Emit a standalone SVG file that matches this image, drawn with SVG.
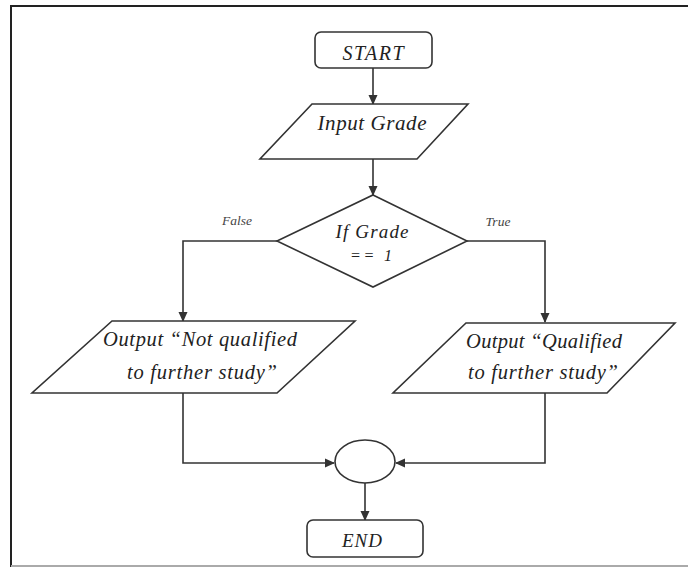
<svg xmlns="http://www.w3.org/2000/svg" width="688" height="567" viewBox="0 0 688 567">
<style>
.shape{fill:#fff;stroke:#333;stroke-width:1.6}
.conn{fill:none;stroke:#333;stroke-width:1.6}
.t{font-family:"Liberation Serif","Times New Roman",serif;font-style:italic;fill:#222;text-anchor:middle}
.lbl{font-family:"Liberation Serif","Times New Roman",serif;font-style:italic;fill:#444;font-size:13.5px;text-anchor:middle}
</style>
<defs>
<marker id="ah" markerWidth="10" markerHeight="10" refX="9" refY="5" orient="auto" markerUnits="userSpaceOnUse">
<path d="M0,0.5 L10,5 L0,9.5 Z" fill="#333"/>
</marker>
</defs>
<rect width="688" height="567" fill="#fff"/>
<g id="frame">
<line x1="11" y1="6" x2="688" y2="6" stroke="#222" stroke-width="2"/>
<line x1="11" y1="5" x2="11" y2="567" stroke="#222" stroke-width="2"/>
<line x1="11" y1="566" x2="688" y2="566" stroke="#aaa" stroke-width="2"/>
</g>
<g id="connectors">
<line class="conn" x1="373" y1="68" x2="373" y2="104" marker-end="url(#ah)"/>
<line class="conn" x1="373" y1="159" x2="373" y2="195" marker-end="url(#ah)"/>
<polyline class="conn" points="277,241 183,241 183,321" marker-end="url(#ah)"/>
<polyline class="conn" points="467,241 545,241 545,322" marker-end="url(#ah)"/>
<polyline class="conn" points="183,393 183,463 334,463" marker-end="url(#ah)"/>
<polyline class="conn" points="545,393 545,463 396,463" marker-end="url(#ah)"/>
<line class="conn" x1="365" y1="483" x2="365" y2="520" marker-end="url(#ah)"/>
<text class="lbl" x="237" y="225">False</text>
<text class="lbl" x="498" y="226">True</text>
</g>
<g id="start">
<rect class="shape" x="315" y="32" width="117" height="36" rx="6"/>
<text class="t" x="373" y="60" font-size="20" textLength="61">START</text>
</g>
<g id="input">
<polygon class="shape" points="312,104 468,104 417,159 260,159"/>
<text class="t" x="372" y="130" font-size="21" textLength="109">Input Grade</text>
</g>
<g id="decision">
<polygon class="shape" points="373,195 467,241 373,287 277,241"/>
<text class="t" x="372" y="238" font-size="19" textLength="73">If Grade</text>
<text class="t" x="371" y="261" font-size="16" textLength="42">== 1</text>
</g>
<g id="out-false">
<polygon class="shape" points="112,321 355,321 277,393 32,393"/>
<text class="t" x="200" y="346" font-size="20.5" textLength="194">Output “Not qualified</text>
<text class="t" x="202" y="379" font-size="20.5" textLength="150">to further study”</text>
</g>
<g id="out-true">
<polygon class="shape" points="466,323 675,323 607,393 393,393"/>
<text class="t" x="544" y="348" font-size="20.5" textLength="156">Output “Qualified</text>
<text class="t" x="543" y="379" font-size="20.5" textLength="150">to further study”</text>
</g>
<g id="merge">
<ellipse class="shape" cx="365" cy="461.5" rx="30" ry="21.5"/>
</g>
<g id="end">
<rect class="shape" x="307" y="520" width="116" height="37" rx="6"/>
<text class="t" x="362" y="547" font-size="19" textLength="40">END</text>
</g>
</svg>
